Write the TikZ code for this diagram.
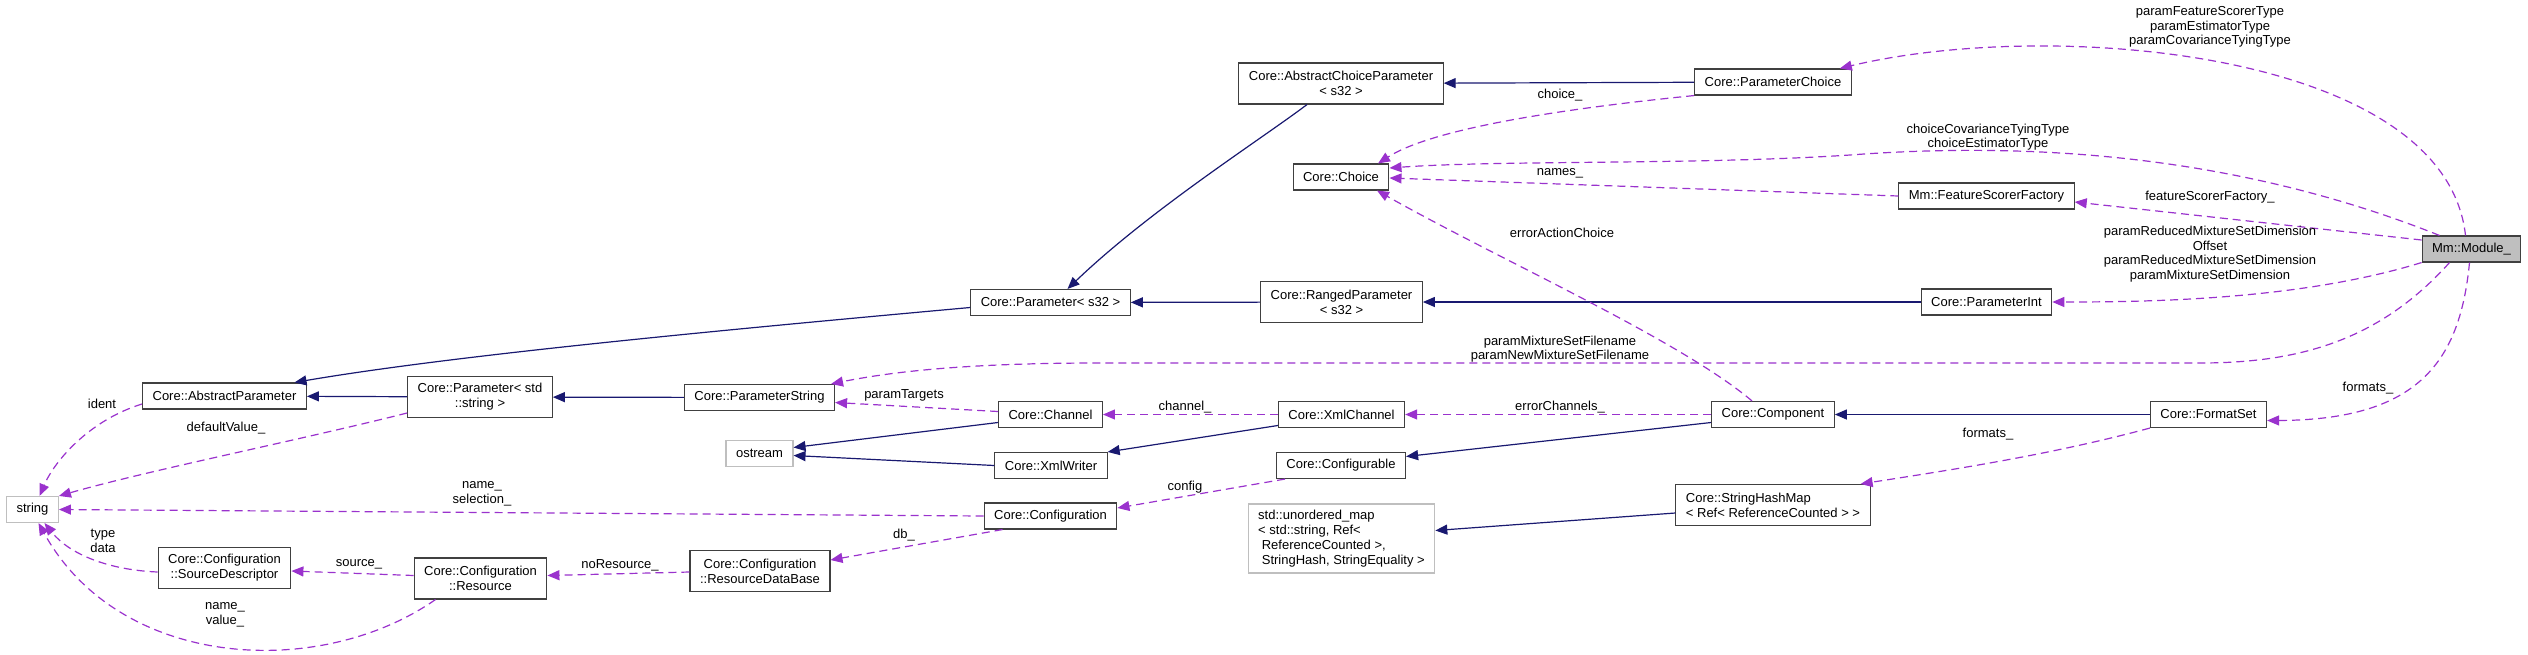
\documentclass[tikz,border=0pt]{standalone}
\usepackage{fontspec}
\setmainfont{Liberation Sans}
\usepackage{tikz}
\usetikzlibrary{arrows.meta}
\definecolor{inhblue}{HTML}{191970}
\definecolor{usepurple}{HTML}{9A32CD}

\begin{document}
\begin{tikzpicture}[x=1pt,y=-1pt,>={Triangle[length=12pt,width=10pt]},
  font=\fontsize{13}{15}\selectfont,
  cls/.style={draw=black!75,line width=1.1pt,fill=white,inner xsep=10pt,inner ysep=2pt,minimum height=26pt},
  cls2/.style={cls,align=center,minimum height=41pt},
  ext/.style={cls,draw=black!25},
  inh/.style={->,draw=inhblue,line width=1.2pt},
  usage/.style={->,draw=usepurple,line width=1.2pt,dash pattern=on 8pt off 5pt},
  lbl/.style={inner sep=0pt,align=center,font=\fontsize{13}{14.5}\selectfont}]
\useasboundingbox (0,0) rectangle (2528,654);

\node[cls2] (acp) at (1341,83.5) {Core::AbstractChoiceParameter\\< s32 >};
\node[cls] (pchoice) at (1773,82) {Core::ParameterChoice};
\node[cls] (choice) at (1341,177) {Core::Choice};
\node[cls] (fsf) at (1986.5,196) {Mm::FeatureScorerFactory};
\node[cls,fill=black!25] (module) at (2471.5,249) {Mm::Module\_};
\node[cls] (ps32) at (1050.5,302.5) {Core::Parameter< s32 >};
\node[cls2] (ranged) at (1341.5,302) {Core::RangedParameter\\< s32 >};
\node[cls] (pint) at (1986.5,302) {Core::ParameterInt};
\node[cls] (absparam) at (224.5,396) {Core::AbstractParameter};
\node[cls2] (pstring) at (480,397) {Core::Parameter< std\\::string >};
\node[cls] (paramstr) at (759.5,397.5) {Core::ParameterString};
\node[cls] (channel) at (1050.5,414.5) {Core::Channel};
\node[cls] (xmlchannel) at (1341.5,414.5) {Core::XmlChannel};
\node[cls] (component) at (1773,414.5) {Core::Component};
\node[cls] (formatset) at (2208.5,414.5) {Core::FormatSet};
\node[ext] (ostream) at (759.5,453.5) {ostream};
\node[cls] (xmlwriter) at (1051,465.5) {Core::XmlWriter};
\node[cls] (configurable) at (1341,465.5) {Core::Configurable};
\node[ext] (string) at (32.5,509.5) {string};
\node[cls] (configuration) at (1050.5,516) {Core::Configuration};
\node[cls2,align=left] (strhash) at (1773,505) {Core::StringHashMap\\< Ref< ReferenceCounted > >};
\node[ext,align=left,minimum height=69pt] (unordered) at (1341.5,538.5) {std::unordered\_map\\< std::string, Ref<\\~ReferenceCounted >,\\~StringHash, StringEquality >};
\node[cls2] (srcdesc) at (224.5,568) {Core::Configuration\\::SourceDescriptor};
\node[cls2] (resource) at (480.5,578.5) {Core::Configuration\\::Resource};
\node[cls2] (rdb) at (760,571) {Core::Configuration\\::ResourceDataBase};

\draw[inh] (pchoice) -- (acp);
\draw[inh] ([xshift=-34pt]acp.south) .. controls (1260,140) and (1150,210) .. ([xshift=17pt]ps32.north);
\draw[inh] (ranged) -- (ps32);
\draw[inh] (pint) -- (ranged);
\draw[inh] ([yshift=-5pt]ps32.west) .. controls (700,332) and (450,356) .. ([xshift=70pt]absparam.north);
\draw[inh] (pstring) -- (absparam);
\draw[inh] (paramstr) -- (pstring);
\draw[inh] ([yshift=-8pt]channel.west) -- ([yshift=6pt]ostream.east);
\draw[inh] (xmlwriter.west) -- ([yshift=-2pt]ostream.east);
\draw[inh] ([yshift=-11pt]xmlchannel.west) -- (xmlwriter.north east);
\draw[inh] ([yshift=-8pt]component.west) -- ([yshift=9pt]configurable.east);
\draw[inh] (formatset) -- (component);
\draw[inh] ([yshift=-8pt]strhash.west) -- ([yshift=8pt]unordered.east);

\draw[usage] ([xshift=-6pt]module.north) .. controls (2445,50) and (2050,18) .. ([xshift=-12pt]pchoice.north east);
\draw[usage] ([xshift=-32pt]module.north) .. controls (2250,160) and (2050,140) .. (1850,155)
  .. controls (1700,165) and (1500,160) .. ([yshift=9pt]choice.east);
\draw[usage] (fsf.west) -- ([yshift=-1pt]choice.east);
\draw[usage] (pchoice.south west) .. controls (1550,110) and (1430,130) .. ([xshift=37pt]choice.north);
\draw[usage] ([xshift=-21pt]component.north) .. controls (1680,340) and (1500,260) .. ([xshift=36pt]choice.south);
\draw[usage] ([yshift=9pt]module.west) -- ([yshift=-6pt]fsf.east);
\draw[usage] (module.south west) .. controls (2300,300) and (2150,302) .. (pint.east);
\draw[usage] ([xshift=-22pt]module.south) .. controls (2380,340) and (2300,363) .. (2200,363) -- (1100,363)
  .. controls (980,363) and (900,370) .. ([xshift=-4pt]paramstr.north east);
\draw[usage] ([xshift=-2pt]module.south) .. controls (2460,360) and (2420,420) .. ([yshift=-6pt]formatset.east);
\draw[usage] (formatset.south west) .. controls (2050,455) and (1950,470) .. ([xshift=-10pt]strhash.north east);
\draw[usage] (component) -- (xmlchannel);
\draw[usage] (xmlchannel) -- (channel);
\draw[usage] ([yshift=3pt]channel.west) -- ([yshift=-5pt]paramstr.east);
\draw[usage] ([xshift=-56pt]configurable.south) -- ([yshift=8pt]configuration.east);
\draw[usage] ([xshift=-48pt]configuration.south) -- ([yshift=11pt]rdb.east);
\draw[usage] (configuration.west) -- (string.east);
\draw[usage] ([yshift=-1pt]rdb.west) -- ([yshift=3pt]resource.east);
\draw[usage] ([yshift=3pt]resource.west) -- ([yshift=-3pt]srcdesc.east);
\draw[usage] ([yshift=-4pt]srcdesc.west) .. controls (110,570) and (70,555) .. ([xshift=12pt]string.south);
\draw[usage] ([xshift=-45pt]resource.south) .. controls (320,680) and (120,670) .. ([xshift=6pt]string.south);
\draw[usage] ([yshift=-16pt]pstring.west) .. controls (300,440) and (150,470) .. (string.north east);
\draw[usage] ([yshift=-8pt]absparam.west) .. controls (90,420) and (55,460) .. ([xshift=7pt]string.north);

\node[lbl] (lpc) at (2210,27) {paramFeatureScorerType\\paramEstimatorType\\paramCovarianceTyingType};
\node[lbl] (lch) at (1988,137) {choiceCovarianceTyingType\\choiceEstimatorType};
\node[lbl] (lchoice) at (1560,95) {choice\_};
\node[lbl] (lnames) at (1560,173) {names\_};
\node[lbl] (lfsf) at (2210,197) {featureScorerFactory\_};
\node[lbl] (lerr) at (1562,233) {errorActionChoice};
\node[lbl] (lpint) at (2210,254) {paramReducedMixtureSetDimension\\Offset\\paramReducedMixtureSetDimension\\paramMixtureSetDimension};
\node[lbl] (lps) at (1560,349) {paramMixtureSetFilename\\paramNewMixtureSetFilename};
\node[lbl] (lerrch) at (1560,407) {errorChannels\_};
\node[lbl] (lfmt) at (2368,388) {formats\_};
\node[lbl] (lfmt2) at (1988,434) {formats\_};
\node[lbl] (lchan) at (1185,407) {channel\_};
\node[lbl] (ltargets) at (904,395) {paramTargets};
\node[lbl] (lconfig) at (1185,487) {config};
\node[lbl] (ldb) at (904,535) {db\_};
\node[lbl] (lnamesel) at (482,494) {name\_\\selection\_};
\node[lbl] (lnores) at (620,565) {noResource\_};
\node[lbl] (lsource) at (359,564) {source\_};
\node[lbl] (ltype) at (103,541) {type\\data};
\node[lbl] (lnameval) at (225,615) {name\_\\value\_};
\node[lbl] (ldefault) at (226,428) {defaultValue\_};
\node[lbl] (lident) at (102,404) {ident};
\end{tikzpicture}
\end{document}
